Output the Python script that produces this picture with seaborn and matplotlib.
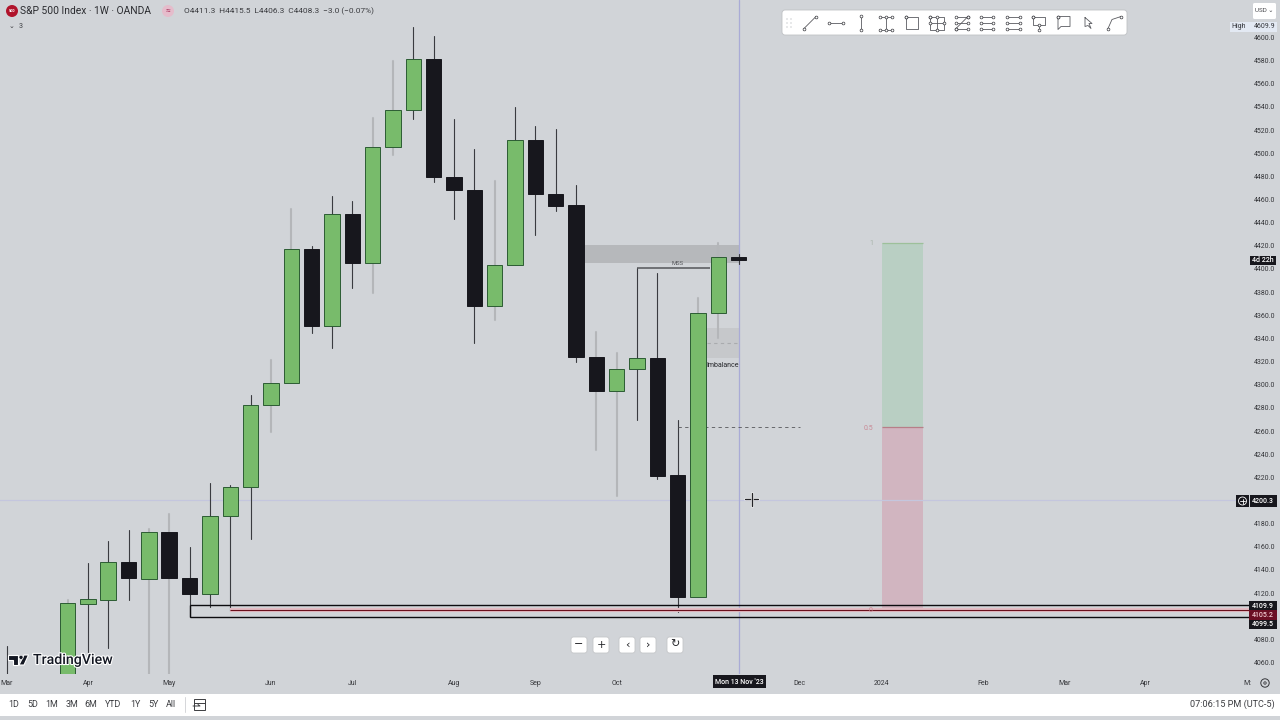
"""Weekly S&P 500 candlestick chart in a TradingView-style frame."""
import matplotlib
matplotlib.use("Agg")
import matplotlib.patheffects as pe
import matplotlib.pyplot as plt
import pandas as pd
import seaborn as sns
from matplotlib.patches import Circle, FancyBboxPatch, Polygon, Rectangle

# weekly candles, prices
weeks = [0, 3, 4, 5, 6, 7, 8, 9, 10, 11, 12, 13, 14, 15, 16, 17, 18, 19, 20,
         21, 22, 23, 24, 25, 26, 27, 28, 29, 30, 31, 32, 33, 34, 35, 36]
rising = [0, 1, 1, 1, 0, 1, 0, 0, 1, 1, 1, 1, 1, 0, 1, 0, 1, 1, 1,
          0, 0, 0, 1, 1, 0, 0, 0, 0, 1, 1, 0, 0, 1, 1, 0]
highs = [4074.3, 4114.0, 4146.0, 4165.0, 4174.5, 4175.3, 4188.3, 4159.8, 4215.1,
         4213.4, 4291.1, 4321.4, 4451.8, 4419.9, 4463.1, 4458.7, 4530.4, 4579.7,
         4609.1, 4601.3, 4529.6, 4503.7, 4476.0, 4540.0, 4523.5, 4520.9, 4472.6,
         4345.5, 4327.4, 4400.8, 4396.5, 4269.5, 4374.9, 4422.4, 4413.0]
body_tops = [4035.0, 4111.4, 4114.9, 4146.8, 4146.8, 4172.8, 4172.8, 4133.0, 4186.6,
             4211.6, 4282.5, 4301.5, 4417.3, 4417.3, 4447.5, 4447.5, 4505.4, 4537.4,
             4581.4, 4581.4, 4479.5, 4468.2, 4403.4, 4511.4, 4511.4, 4464.8, 4455.3,
             4324.0, 4313.6, 4323.1, 4323.1, 4222.0, 4361.9, 4410.4, 4410.4]
body_bots = [4030.0, 4040.0, 4110.5, 4114.0, 4133.0, 4132.1, 4133.0, 4119.2, 4119.2,
             4186.6, 4211.6, 4282.5, 4301.5, 4350.7, 4350.7, 4405.2, 4405.2, 4505.4,
             4537.4, 4479.5, 4468.2, 4368.0, 4368.0, 4403.4, 4464.8, 4454.4, 4324.0,
             4294.6, 4294.6, 4313.6, 4221.1, 4116.6, 4116.6, 4361.9, 4407.8]
lows = [4025.0, 4035.0, 4068.4, 4072.7, 4114.0, 4040.0, 4040.0, 4099.5, 4107.9,
        4104.5, 4166.7, 4259.2, 4301.5, 4344.7, 4331.7, 4383.6, 4379.2, 4498.5,
        4529.6, 4475.2, 4443.2, 4336.0, 4355.9, 4403.4, 4429.4, 4450.1, 4319.6,
        4243.6, 4203.8, 4269.5, 4218.6, 4103.6, 4116.6, 4340.4, 4404.0]
faded_weeks = [3, 7, 8, 13, 14, 18, 19, 24, 29, 30, 34, 35]

# 4100 and 4200 sit behind the price tags in the original
price_ticks = [p for p in range(4060, 4601, 20) if p not in (4100, 4200)]
month_weeks = [0, 4, 8, 13, 17, 22, 26, 30, 39, 43, 48, 52, 56, 61]
month_labels = ["Mar", "Apr", "May", "Jun", "Jul", "Aug", "Sep", "Oct", "Dec",
                "2024", "Feb", "Mar", "Apr", "M:"]
level_high, level_mid, level_low = 4109.9, 4105.2, 4099.5
crosshair_week, crosshair_price = 36, 4200.3
fib_top, fib_mid = 4422.4, 4263.5
range_buttons = ["1D", "5D", "1M", "3M", "6M", "YTD", "1Y", "5Y", "All"]

BG = "#d1d4d8"
GREEN = "#78bb6b"
GREEN_EDGE = "#2c5c33"
BLACK = "#17171d"
FADED = "#b4b6b9"
DARK = "#3a3b40"

sns.set_theme(style="white", rc={"axes.facecolor": BG, "figure.facecolor": BG})
plt.rcParams["font.family"] = ["Roboto", "DejaVu Sans"]

candles = pd.DataFrame({"week": weeks, "rising": rising, "high": highs,
                        "top": body_tops, "bot": body_bots, "low": lows})
candles["wick"] = ["faded" if w in faded_weeks else "dark" for w in weeks]
wicks = candles.melt(id_vars=["week", "wick"], value_vars=["high", "low"], value_name="price")

fig = plt.figure(figsize=(12.8, 7.2), dpi=100)
ax = fig.add_axes([0, 46 / 720, 1250 / 1280, 674 / 720])
ax.set_xlim(-0.32, 61.14)
ax.set_ylim(4050.07, 4632.4)

# zones behind the candles
ax.axvspan(43.04, 45.05, ymin=(4105.2 - 4050.07) / 582.33, ymax=(fib_mid - 4050.07) / 582.33,
           color="#d1b5c0", lw=0, zorder=1)
ax.axvspan(43.04, 45.05, ymin=(fib_mid - 4050.07) / 582.33, ymax=(fib_top - 4050.07) / 582.33,
           color="#b9cfc3", lw=0, zorder=1)
ax.hlines(fib_top, 43.04, 45.05, color="#9dc09a", lw=0.9, zorder=2)
ax.hlines(fib_mid, 43.04, 45.05, color="#b77f88", lw=0.9, zorder=2)
ax.add_patch(Rectangle((28.4, 4405.5), 7.6, 15.5, color="#b6b8bb", lw=0, zorder=1))
ax.add_patch(Rectangle((34.43, 4323.1), 1.57, 26, color="#c6c8cb", lw=0, zorder=1))

ax.axhline(crosshair_price, color="#c4c6de", lw=0.9, zorder=1.5)
ax.axvline(crosshair_week, color="#a9abd6", lw=0.9, zorder=1.5)

sns.lineplot(data=wicks, x="week", y="price", units="week", estimator=None, hue="wick",
             size="wick", hue_order=["dark", "faded"], size_order=["dark", "faded"],
             palette={"dark": DARK, "faded": FADED}, sizes={"dark": 0.8, "faded": 1.5},
             legend=False, ax=ax, zorder=3)

for state, fill, edge in [(1, GREEN, GREEN_EDGE), (0, BLACK, BLACK)]:
    part = candles[candles["rising"] == state]
    ax.bar(part["week"], part["top"] - part["bot"], bottom=part["bot"], width=0.76,
           color=fill, edgecolor=edge, linewidth=0.7, zorder=4)

# drawn levels and annotations
ax.hlines(level_mid, 11, 61.14, color="#e3bcc4", lw=3, zorder=4.5)
ax.hlines(level_mid, 11, 61.14, color="#6a0f1c", lw=0.8, zorder=5)
ax.hlines([level_high, level_low], 9, 61.14, color="#0c0c0f", lw=1, zorder=5)
ax.vlines(9, level_low, level_high, color="#0c0c0f", lw=1, zorder=5)
ax.hlines(4400.8, 31, 34.6, color="#55565a", lw=1.1, zorder=5)
ax.hlines(fib_mid, 33, 39, color="#55565a", lw=0.6, linestyles=(0, (4, 4)), zorder=3.5)
ax.hlines(4336.0, 34.43, 36, color="#a9abae", lw=0.8, linestyles=(0, (3, 3)), zorder=3.5)
ax.text(33, 4404.5, "MSS", fontsize=4.2, color="#55565a", ha="center", va="center", zorder=6)
ax.text(35.2, 4317.0, "Imbalance", fontsize=5, color="#25262a", ha="center", va="center", zorder=6)
ax.text(42.6, fib_top, "1", fontsize=5, color="#a9b5ab", ha="right", va="center")
ax.text(42.6, fib_mid - 1.5, "0.5", fontsize=5, color="#c98a96", ha="right", va="center")
ax.text(42.6, level_mid, "0", fontsize=5, color="#c98a96", ha="right", va="center", zorder=6)

ax.yaxis.tick_right()
ax.set_yticks(price_ticks)
ax.set_yticklabels([f"{p:.1f}" for p in price_ticks], fontsize=5, color="#35363a")
ax.set_xticks(month_weeks)
ax.set_xticklabels(month_labels, fontsize=5, color="#35363a")
ax.tick_params(axis="both", length=0)
ax.tick_params(axis="y", pad=3)
ax.tick_params(axis="x", pad=4)
ax.set_xlabel("")
ax.set_ylabel("")
sns.despine(ax=ax, left=True, right=True, top=True, bottom=True)

# overlay in pixel coordinates for the interface furniture
ui = fig.add_axes([0, 0, 1, 1], zorder=10)
ui.set_xlim(0, 1280)
ui.set_ylim(720, 0)
ui.axis("off")
ui.patch.set_alpha(0)


def box(x0, y0, x1, y1, color="white", edge="none", radius=2.5, z=1):
    ui.add_patch(FancyBboxPatch((x0 + radius, y0 + radius), x1 - x0 - 2 * radius, y1 - y0 - 2 * radius,
                                boxstyle=f"round,pad={radius}", fc=color, ec=edge, lw=0.6, zorder=z))


def tag(x0, y0, x1, y1, label, color=BLACK, text="white"):
    ui.add_patch(Rectangle((x0, y0), x1 - x0, y1 - y0, fc=color, ec="none", zorder=2))
    ui.text((x0 + x1) / 2, (y0 + y1) / 2, label, fontsize=5, color=text, ha="center", va="center",
            fontweight="medium", zorder=3)


# header
ui.add_patch(Circle((12, 11), 6, fc="#b0132b", ec="none"))
ui.text(12, 11, "500", fontsize=2.8, color="white", ha="center", va="center", fontweight="bold")
ui.text(20, 11, "S&P 500 Index · 1W · OANDA", fontsize=7.4, color="#2b2c30", va="center")
ui.add_patch(Circle((168, 11), 6, fc="#e5bccb", ec="none"))
ui.text(168, 11, "≈", fontsize=6, color="#a82f5a", ha="center", va="center")
ui.text(184, 11, "O4411.3  H4415.5  L4406.3  C4408.3  −3.0 (−0.07%)", fontsize=5.95, color="#3b3c40", va="center")
ui.text(12, 26.5, "⌄", fontsize=5, color="#3b3c40", ha="center", va="center", family="DejaVu Sans")
ui.text(19, 26.5, "3", fontsize=5, color="#3b3c40", ha="left", va="center")

# drawing toolbar
box(782, 10, 1127, 35, edge="#bfc1c4", radius=3)
for dx in (787, 791):
    for dy in (19, 23, 27):
        ui.add_patch(Circle((dx, dy), 0.7, fc="#c5c7ca", ec="none", zorder=2))
icon_centers = [810, 836, 861, 886, 912, 937, 962, 987, 1013, 1039, 1064, 1088, 1115]
icon_segments = [
    [[(-6, 6), (6, -6)]],
    [[(-7, 0), (7, 0)]],
    [[(0, -7), (0, 7)]],
    [[(-6, -6), (6, -6)], [(-6, 7), (6, 7)], [(0, -6), (0, 7)]],
    [[(-6, -6), (6, -6), (6, 6), (-6, 6), (-6, -6)]],
    [[(-7, -6), (7, -6), (7, 7), (-7, 7), (-7, -6)], [(0, -6), (0, 7)], [(-7, 0), (7, 0)]],
    [[(-6, -6), (6, -6)], [(-6, 0), (6, 0)], [(-6, 6), (6, 6)], [(-6, 6), (6, -6)]],
    [[(-6, -6), (6, -6)], [(-6, 0), (6, 0)], [(-6, 6), (6, 6)]],
    [[(-6, -6), (7, -6)], [(-6, 0), (7, 0)], [(-6, 6), (7, 6)]],
    [[(-6, -6), (6, -6), (6, 2), (-6, 2), (-6, -6)], [(0, 2), (0, 7)]],
    [[(-6, -6), (6, -6), (6, 4), (-3, 4), (-6, 7), (-6, -6)]],
    [[(-3, -5), (4, 1), (1, 1), (3, 6), (0, 3), (-3, 4), (-3, -5)]],
    [[(-7, 6), (-3, -3), (6, -6)]],
]
for cx, segments in zip(icon_centers, icon_segments):
    for seg in segments:
        ui.plot([cx + p[0] for p in seg], [22.5 + p[1] for p in seg], color="#5a5b60", lw=0.6, zorder=3)
        if cx != 1088:
            ui.plot([cx + seg[0][0], cx + seg[-1][0]], [22.5 + seg[0][1], 22.5 + seg[-1][1]], ls="none",
                    marker="o", ms=2, mfc="white", mec="#3a3b40", mew=0.5, zorder=4)

# price scale tags
box(1253, 3, 1276, 19, radius=1.5)
ui.text(1264.5, 11, "USD ⌄", fontsize=4.5, color="#45464a", ha="center", va="center")
ui.add_patch(Rectangle((1230, 22), 47, 10, fc="#e3e9f3", ec="none", zorder=1))
ui.text(1238.5, 26.7, "High", fontsize=5, color="#34363c", ha="center", va="center", zorder=2)
ui.text(1265, 26.7, "4609.9", fontsize=5, color="#35363a", ha="center", va="center", zorder=2)
tag(1250, 256, 1276, 265, "4d 22h")
tag(1250, 495, 1276.5, 507, f"{crosshair_price:.1f}")
ui.add_patch(Rectangle((1236, 495), 13, 12, fc=BLACK, ec="none", zorder=2))
ui.add_patch(Circle((1242.5, 501), 4, fc="none", ec="white", lw=0.6, zorder=3))
ui.plot([1240, 1245], [501, 501], color="white", lw=0.6, zorder=3)
ui.plot([1242.5, 1242.5], [498.5, 503.5], color="white", lw=0.6, zorder=3)
tag(1249, 601, 1277, 610, f"{level_high:.1f}")
tag(1249, 610, 1277, 620, f"{level_mid:.1f}", color="#6a0f24", text="#f0c9d0")
tag(1249, 620, 1277, 629, f"{level_low:.1f}")

# time axis tag and settings
tag(713, 675, 766, 688, "Mon 13 Nov '23")
ui.add_patch(Circle((1265, 683), 4.2, fc="none", ec="#35363a", lw=0.7))
ui.add_patch(Circle((1265, 683), 1.2, fc="none", ec="#35363a", lw=0.6))

# floating navigation buttons
for cx, symbol in zip([579, 601, 627, 648, 675], ["−", "+", "‹", "›", "↻"]):
    box(cx - 8, 637, cx + 8, 653, edge="#c4c6c9", radius=2.5)
    ui.text(cx, 644.5, symbol, fontsize=8, color="#222327", ha="center", va="center", zorder=3,
            family=["DejaVu Sans"])

# crosshair cursor
halo = [pe.withStroke(linewidth=1.8, foreground="white")]
ui.plot([745, 758], [499, 499], color="#222327", lw=1, path_effects=halo, zorder=5)
ui.plot([751.5, 751.5], [493, 506], color="#222327", lw=1, path_effects=halo, zorder=5)

# TradingView mark
logo = [pe.withStroke(linewidth=1.6, foreground="white")]
for points in [[(8, 655), (18, 655), (18, 665), (12.5, 665), (12.5, 659.5), (8, 659.5)],
               [(24, 655), (28.5, 655), (24, 665), (19, 665)]]:
    ui.add_patch(Polygon(points, fc="#131722", ec="white", lw=0.8, zorder=4))
ui.add_patch(Circle((21, 657.3), 2.1, fc="#131722", ec="white", lw=0.5, zorder=4))
ui.text(33, 660, "TradingView", fontsize=10.2, color="#131722", va="center", fontweight="medium",
        path_effects=logo, zorder=4)

# bottom bar
ui.add_patch(Rectangle((0, 694), 1280, 22, fc="white", ec="none", zorder=1))
for cx, label in zip([14, 33, 52, 72, 91, 113, 135, 153, 171], range_buttons):
    ui.text(cx, 704.5, label, fontsize=6.4, color="#3b3c40", ha="center", va="center", zorder=2)
ui.plot([184.5, 184.5], [697, 712], color="#d5d6d9", lw=0.7, zorder=2)
ui.add_patch(Rectangle((194, 699), 11, 11, fc="none", ec="#3b3c40", lw=0.7, zorder=2))
ui.plot([194, 205], [702.5, 702.5], color="#3b3c40", lw=0.7, zorder=2)
ui.plot([193, 200, 198], [706, 706, 704.5], color="#3b3c40", lw=0.7, zorder=3)
ui.text(1275, 704.5, "07:06:15 PM (UTC-5)", fontsize=6.6, color="#3b3c40", ha="right", va="center", zorder=2)

fig.savefig("out.png", dpi=100, facecolor=BG)
plt.close(fig)
